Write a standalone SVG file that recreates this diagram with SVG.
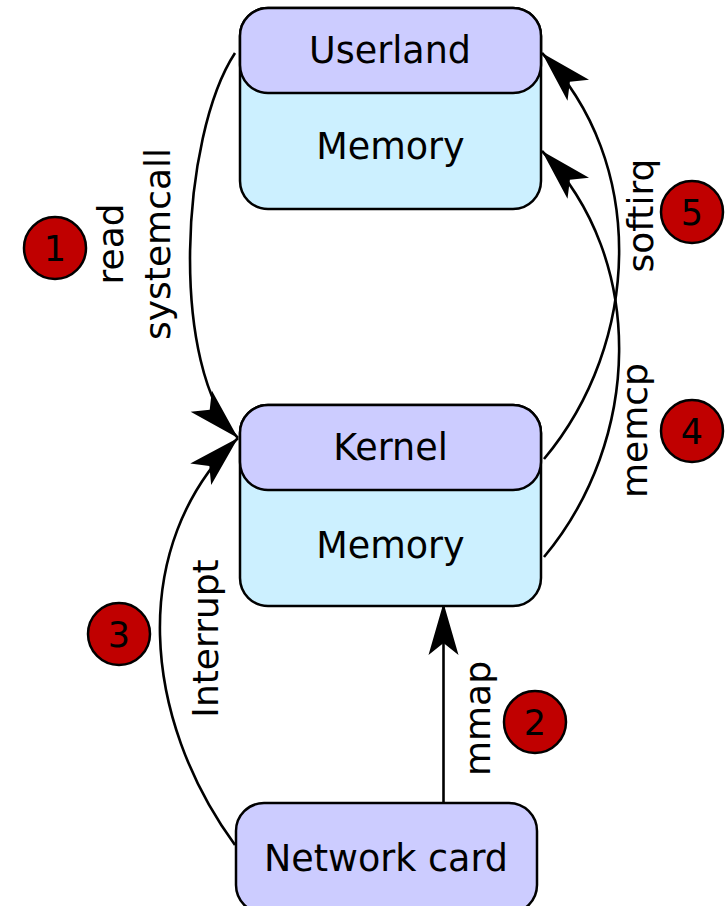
<svg xmlns="http://www.w3.org/2000/svg" width="727" height="906" viewBox="0 0 727 906">
  <style>
    text { font-family: "DejaVu Sans", "Liberation Sans", sans-serif; fill: #000; }
    .title { font-size: 36.5px; text-anchor: middle; }
    .label { font-size: 36px; text-anchor: middle; }
    .num { font-size: 35px; text-anchor: middle; }
    .head { fill: #ccccff; stroke: #000; stroke-width: 2.5; }
    .mem { fill: #ccf0ff; stroke: #000; stroke-width: 2.5; }
    .badge { fill: #c00000; stroke: #000; stroke-width: 2.5; }
    .conn { fill: none; stroke: #000; stroke-width: 2.6; marker-end: url(#arrow); }
  </style>
  <defs>
    <marker id="arrow" markerUnits="userSpaceOnUse" viewBox="-56 -18 60 36" markerWidth="60" markerHeight="36" refX="0" refY="0" orient="auto">
      <path d="M0,0 L-52,-15 L-40,0 L-52,15 Z" fill="#000"/>
    </marker>
  </defs>

  <rect width="727" height="906" fill="#fff"/>

  <!-- connectors -->
  <g id="connectors">
    <!-- read systemcall: Userland -> Kernel -->
    <path class="conn" d="M235,53 C180.5,136 168.7,368.7 238,438"/>
    <!-- interrupt: Network card -> Kernel -->
    <path class="conn" d="M235,845 C143,719 126,547 238,438"/>
    <!-- mmap: Network card -> Kernel memory -->
    <path class="conn" d="M443.5,803 L443.5,603"/>
    <!-- softirq: Kernel -> Userland -->
    <path class="conn" d="M544,459 C641,343 648,162 542,53"/>
    <!-- memcp: Kernel memory -> Userland memory -->
    <path class="conn" d="M544,557 C641,441 648,260 542,151"/>
  </g>

  <!-- Userland -->
  <g id="userland">
    <rect class="mem" x="240" y="8" width="301" height="201" rx="28"/>
    <rect class="head" x="240" y="8" width="301" height="85" rx="28"/>
    <text class="title" x="390" y="63">Userland</text>
    <text class="title" x="390.5" y="159">Memory</text>
  </g>

  <!-- Kernel -->
  <g id="kernel">
    <rect class="mem" x="240" y="405" width="301" height="201" rx="28"/>
    <rect class="head" x="240" y="405" width="301" height="85" rx="28"/>
    <text class="title" x="390.5" y="460">Kernel</text>
    <text class="title" x="390.5" y="558">Memory</text>
  </g>

  <!-- Network card -->
  <g id="network-card">
    <rect class="head" x="236" y="803" width="301" height="110" rx="28"/>
    <text class="title" x="386" y="871">Network card</text>
  </g>

  <!-- connector labels -->
  <g id="labels">
    <text class="label" transform="translate(123,244) rotate(-90)">read</text>
    <text class="label" transform="translate(170,244) rotate(-90)">systemcall</text>
    <text class="label" transform="translate(218,638.5) rotate(-90)">Interrupt</text>
    <text class="label" transform="translate(490,718.5) rotate(-90)">mmap</text>
    <text class="label" transform="translate(653,215.5) rotate(-90)">softirq</text>
    <text class="label" transform="translate(647,430.5) rotate(-90)">memcp</text>
  </g>

  <!-- step badges -->
  <g id="badge-1">
    <circle class="badge" cx="55" cy="248" r="31"/>
    <text class="num" x="55" y="260.5">1</text>
  </g>
  <g id="badge-2">
    <circle class="badge" cx="535" cy="722" r="31"/>
    <text class="num" x="535" y="734.5">2</text>
  </g>
  <g id="badge-3">
    <circle class="badge" cx="119" cy="634" r="31"/>
    <text class="num" x="119" y="646.5">3</text>
  </g>
  <g id="badge-4">
    <circle class="badge" cx="692" cy="431" r="31"/>
    <text class="num" x="692" y="443.5">4</text>
  </g>
  <g id="badge-5">
    <circle class="badge" cx="692" cy="212" r="31"/>
    <text class="num" x="692" y="224.5">5</text>
  </g>
</svg>
